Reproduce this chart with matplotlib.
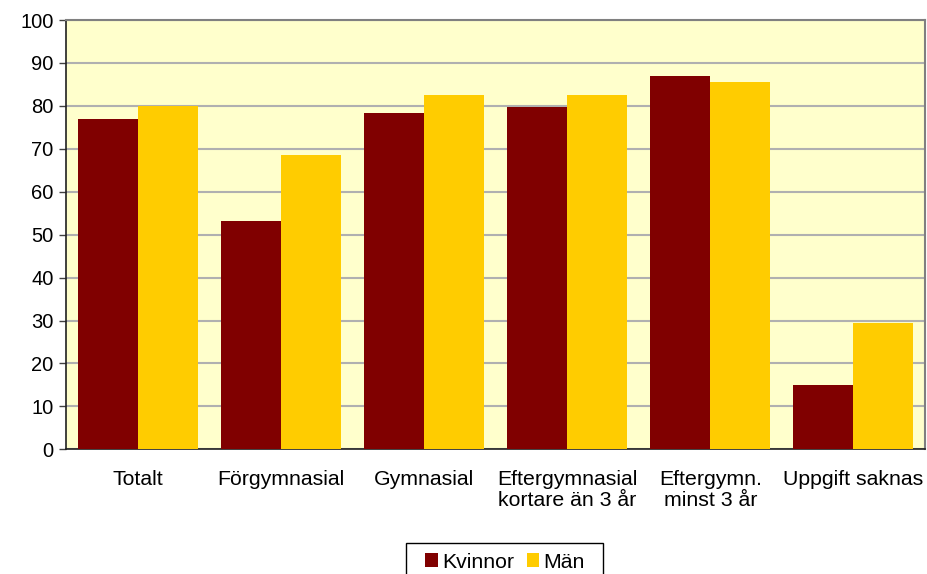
import matplotlib
matplotlib.use("Agg")
import matplotlib.pyplot as plt
from matplotlib.patches import Rectangle
import numpy as np

categories = ["Totalt", "Förgymnasial", "Gymnasial", "Eftergymnasial\nkortare än 3 år",
              "Eftergymn.\nminst 3 år", "Uppgift saknas"]
kvinnor = [76.9, 53.1, 78.3, 79.7, 87.0, 14.9]
man = [80.0, 68.6, 82.6, 82.5, 85.6, 29.5]
series_names = ["Kvinnor", "Män"]
yticks = list(range(0, 101, 10))

plt.rcParams['font.family'] = ['Liberation Sans', 'DejaVu Sans']
fig = plt.figure(figsize=(9.28, 5.74), dpi=100)
ax = fig.add_axes([66/928, 1-449.3/574, (925-66)/928, (449.3-20)/574])
ax.set_facecolor("#FFFFCC")

x = np.arange(len(categories))
w = 0.419
ax.bar(x - w/2, kvinnor, w, color="#800000", label=series_names[0], zorder=3)
ax.bar(x + w/2, man, w, color="#FFCC00", label=series_names[1], zorder=3)

ax.set_xlim(-0.5, len(categories) - 0.5)
ax.set_ylim(0, 100)
ax.set_yticks(yticks)
ax.tick_params(axis='y', labelsize=14.5, length=5, width=1, color="#404040", pad=4)
ax.set_xticks(x)
ax.set_xticklabels(categories, fontsize=15.3, linespacing=1.15)
ax.tick_params(axis='x', length=0, pad=15)
ax.yaxis.grid(True, color="#B0B0B0", linewidth=1.5, zorder=0)
ax.set_axisbelow(True)
for s in ["top", "right"]:
    ax.spines[s].set_color("#808080")
    ax.spines[s].set_linewidth(1.5)
for s in ["left", "bottom"]:
    ax.spines[s].set_color("#202020")
    ax.spines[s].set_linewidth(1.2)

leg = fig.legend(loc="upper center", bbox_to_anchor=(505/928, 1-543/574), ncol=2, fontsize=15.3,
                 frameon=False, handlelength=0.6,
                 handleheight=0.6, handletextpad=0.2, columnspacing=0.6, borderpad=0.45,
                 borderaxespad=0)
# legend box drawn separately to match the reference frame
box_left, box_right, box_top = 406/928, 603/928, 1-543/574
fig.patches.append(Rectangle((box_left, -0.05), box_right - box_left, box_top + 0.05,
                             transform=fig.transFigure, fill=False, edgecolor="black",
                             linewidth=1.0))

fig.savefig("out.png", dpi=100)
